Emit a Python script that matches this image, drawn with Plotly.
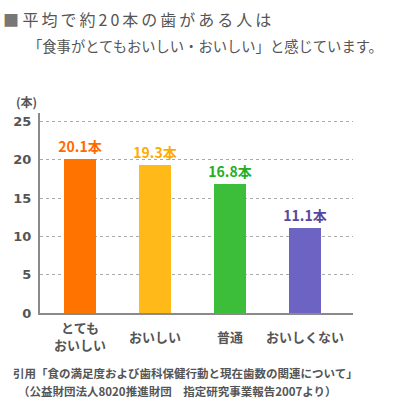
import plotly.graph_objects as go

categories = ["とても<br>おいしい", "おいしい", "普通", "おいしくない"]
values = [20.1, 19.3, 16.8, 11.1]
value_labels = ["20.1本", "19.3本", "16.8本", "11.1本"]
bar_colors = ["#FF7300", "#FFBA1A", "#3DBE3B", "#6C63C2"]
label_colors = ["#FF6A00", "#FFAA00", "#22B022", "#5548A0"]
y_ticks = [0, 5, 10, 15, 20, 25]

FONT = "Noto Sans CJK JP"
GRAY = "#555555"

W, H = 396, 407
L, R = 40, 352.7
T, B = 112.7, 312.7


def px(x):
    return (x - L) / (R - L)


def py(y):
    return (B - y) / (B - T)


fig = go.Figure()
fig.add_trace(go.Bar(
    x=list(range(len(categories))),
    y=values,
    width=0.427,
    marker=dict(color=bar_colors, line=dict(width=0)),
    text=value_labels,
    textposition="outside",
    constraintext="none",
    textfont=dict(family=FONT, size=14, color=label_colors, weight="bold"),
    cliponaxis=False,
    hoverinfo="skip",
))

ann = []
for i, c in enumerate(categories):
    ann.append(dict(x=i, y=py(336), xref="x", yref="paper", text=c, showarrow=False,
                    xanchor="center", yanchor="middle", align="center",
                    font=dict(family=FONT, size=13, color=GRAY, weight="bold")))

ann.append(dict(x=px(27), y=py(101), xref="paper", yref="paper", text="(本)", showarrow=False,
                xanchor="center", yanchor="middle",
                font=dict(family=FONT, size=12, color=GRAY, weight="bold")))

ann.append(dict(x=px(1), y=py(19), xref="paper", yref="paper",
                text='<span style="color:#777777">■</span> <span style="letter-spacing:3px">平均で約20本の歯がある人は</span>',
                showarrow=False, xanchor="left", yanchor="middle",
                font=dict(family=FONT, size=16, color=GRAY)))
ann.append(dict(x=px(26), y=py(45), xref="paper", yref="paper",
                text="「食事がとてもおいしい・おいしい」と感じています。",
                showarrow=False, xanchor="left", yanchor="middle",
                font=dict(family=FONT, size=14.3, color=GRAY)))

ann.append(dict(x=px(11), y=py(373), xref="paper", yref="paper",
                text="引用「食の満足度および歯科保健行動と現在歯数の関連について」",
                showarrow=False, xanchor="left", yanchor="middle",
                font=dict(family=FONT, size=11.5, color=GRAY, weight="bold")))
ann.append(dict(x=px(16), y=py(391), xref="paper", yref="paper",
                text="（公益財団法人8020推進財団　指定研究事業報告2007より）",
                showarrow=False, xanchor="left", yanchor="middle",
                font=dict(family=FONT, size=11.5, color=GRAY, weight="bold")))

fig.update_layout(
    width=W, height=H,
    margin=dict(l=L, r=W - R, t=T, b=H - B, pad=0, autoexpand=False),
    plot_bgcolor="white", paper_bgcolor="white",
    showlegend=False,
    annotations=ann,
    bargap=0,
)
fig.update_xaxes(range=[-0.527, 3.64], showticklabels=False, showgrid=False, zeroline=False,
                 showline=True, linecolor="#8a8a8a", linewidth=2, ticks="", fixedrange=True,
                 automargin=False)
fig.update_yaxes(range=[0, 26.1], tickvals=y_ticks, showgrid=True, gridcolor="#aaaaaa",
                 griddash="dot", gridwidth=1, zeroline=False, showline=True,
                 linecolor="#8a8a8a", linewidth=2, ticks="", ticklabelstandoff=4,
                 tickfont=dict(family="DejaVu Sans", size=13, color=GRAY, weight="bold"),
                 fixedrange=True, automargin=False)

fig.write_html("out.html", config={"displayModeBar": False},
               post_script="document.body.style.margin='0';document.body.style.overflow='hidden';")
